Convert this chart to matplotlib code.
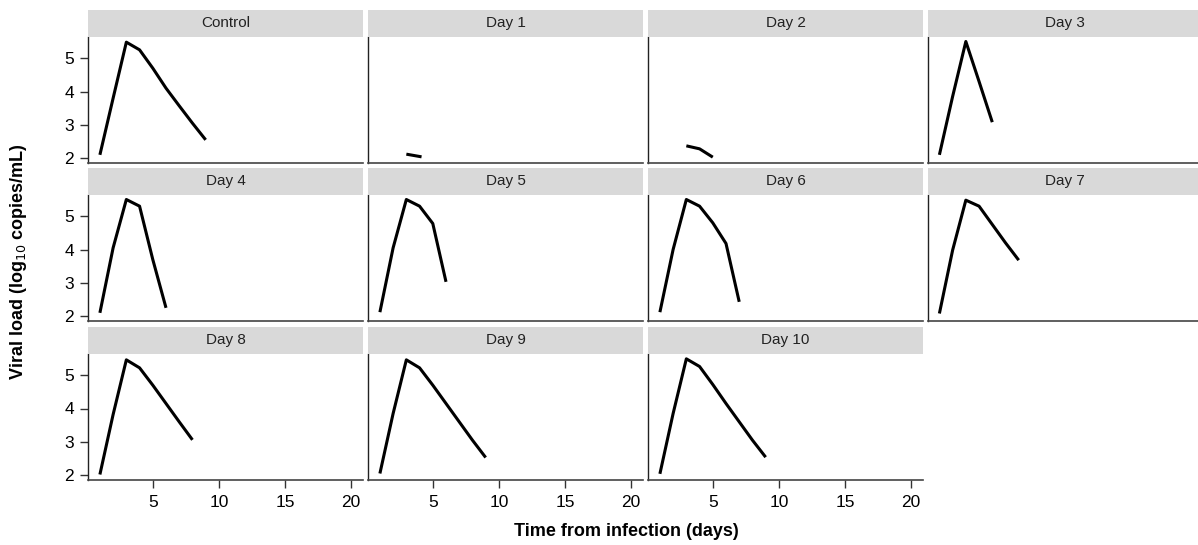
import matplotlib
matplotlib.use('Agg')
import matplotlib.pyplot as plt

plt.rcParams['font.family'] = ['Liberation Sans', 'DejaVu Sans']

# panel titles in reading order
panels = ['Control', 'Day 1', 'Day 2', 'Day 3', 'Day 4', 'Day 5',
          'Day 6', 'Day 7', 'Day 8', 'Day 9', 'Day 10']

# time from infection (days) and viral load (log10 copies/mL) per panel
t_control = [1, 2, 3, 4, 5, 6, 7, 8, 9]
v_control = [2.1, 3.8, 5.48, 5.25, 4.7, 4.1, 3.57, 3.05, 2.55]
t_day1 = [3, 4.15]
v_day1 = [2.12, 2.04]
t_day2 = [3, 4, 5]
v_day2 = [2.37, 2.28, 2.03]
t_day3 = [1, 2, 3, 4, 5]
v_day3 = [2.1, 3.85, 5.5, 4.3, 3.08]
t_day4 = [1, 2, 3, 4, 5, 6]
v_day4 = [2.1, 4.05, 5.5, 5.3, 3.7, 2.25]
t_day5 = [1, 2, 3, 4, 5, 6]
v_day5 = [2.12, 4.05, 5.5, 5.3, 4.78, 3.03]
t_day6 = [1, 2, 3, 4, 5, 6, 7]
v_day6 = [2.12, 4.0, 5.5, 5.3, 4.8, 4.18, 2.43]
t_day7 = [1, 2, 3, 4, 5, 6, 7]
v_day7 = [2.08, 3.98, 5.48, 5.3, 4.75, 4.2, 3.68]
t_day8 = [1, 2, 3, 4, 5, 6, 7, 8]
v_day8 = [2.02, 3.82, 5.46, 5.22, 4.7, 4.15, 3.6, 3.06]
t_day9 = [1, 2, 3, 4, 5, 6, 7, 8, 9]
v_day9 = [2.05, 3.85, 5.46, 5.22, 4.7, 4.15, 3.6, 3.05, 2.53]
t_day10 = [1, 2, 3, 4, 5, 6, 7, 8, 9]
v_day10 = [2.04, 3.85, 5.49, 5.26, 4.72, 4.15, 3.6, 3.05, 2.54]

times = [t_control, t_day1, t_day2, t_day3, t_day4, t_day5,
         t_day6, t_day7, t_day8, t_day9, t_day10]
loads = [v_control, v_day1, v_day2, v_day3, v_day4, v_day5,
         v_day6, v_day7, v_day8, v_day9, v_day10]

x_ticks = [5, 10, 15, 20]
y_ticks = [2, 3, 4, 5]

W, H = 1198, 545
fig = plt.figure(figsize=(W / 100, H / 100), dpi=100)

col_left = [88, 368, 648, 927.5]
panel_w = 275
strip_top = [10, 168, 327]
strip_h = 26.5
panel_h = 126

for i, name in enumerate(panels):
    r, c = divmod(i, 4)
    x0 = col_left[c]
    top = strip_top[r] + strip_h
    ax = fig.add_axes([x0 / W, 1 - (top + panel_h) / H, panel_w / W, panel_h / H])
    ax.plot(times[i], loads[i], color='black', lw=2.2, solid_capstyle='butt')
    ax.set_xlim(0.1, 20.9)
    ax.set_ylim(1.87, 5.65)
    for s in ['top', 'right']:
        ax.spines[s].set_visible(False)
    ax.spines['left'].set_color('#222222')
    ax.spines['bottom'].set_color('#444444')
    ax.spines['left'].set_linewidth(1.0)
    ax.spines['bottom'].set_linewidth(1.2)
    ax.set_xticks(x_ticks)
    ax.set_yticks(y_ticks)
    ax.tick_params(axis='both', direction='out', length=6, width=1,
                   color='#333333', labelsize=12.5)
    ax.tick_params(axis='x', pad=5)
    ax.tick_params(axis='y', pad=4)
    if c != 0:
        ax.tick_params(axis='y', left=False, labelleft=False)
    if r != 2:
        ax.tick_params(axis='x', bottom=False, labelbottom=False)

    # strip header
    sax = fig.add_axes([x0 / W, 1 - (strip_top[r] + strip_h) / H, panel_w / W, strip_h / H])
    sax.set_facecolor('#d9d9d9')
    sax.set_xticks([])
    sax.set_yticks([])
    for s in sax.spines.values():
        s.set_visible(False)
    sax.text(0.5, 0.5, name, ha='center', va='center', fontsize=11,
             color='#222222', transform=sax.transAxes)

fig.text(626 / W, 1 - 531 / H, 'Time from infection (days)', ha='center',
         va='center', fontsize=13, fontweight='bold')
fig.text(19 / W, 1 - 262 / H, 'Viral load (log$_{10}$ copies/mL)', ha='center',
         va='center', rotation=90, fontsize=13, fontweight='bold')

fig.savefig('out.png', dpi=100)
